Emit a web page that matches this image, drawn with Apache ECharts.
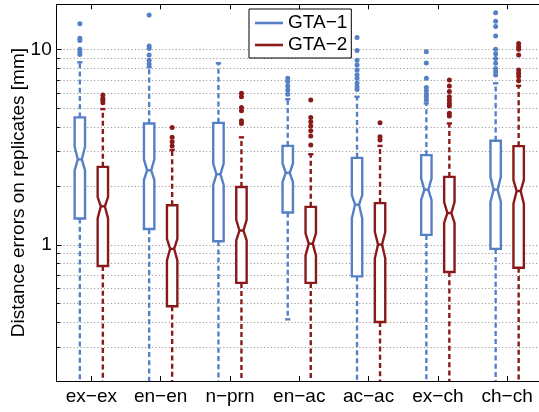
<!DOCTYPE html>
<html><head><meta charset="utf-8">
<script src="https://cdn.jsdelivr.net/npm/echarts@6/dist/echarts.min.js"></script>
<style>html,body{margin:0;padding:0;background:#fff}#c{width:539px;height:412px}</style>
</head><body><div id="c"></div>
<script>
const categories = ['ex−ex','en−en','n−prn','en−ac','ac−ac','ex−ch','ch−ch'];
const seriesNames = ['GTA−1','GTA−2'];
const yAxisName = 'Distance errors on replicates [mm]';
const gridValues = [0.3,0.4,0.5,0.6,0.7,0.8,0.9,1,2,3,4,5,6,7,8,9,10];
const majorTicks = [1, 10];

// GTA-1 (blue)
const gta1LowerWhisker = [0.15, 0.15, 0.15, 0.414, 0.15, 0.15, 0.15];
const gta1Q1           = [1.36, 1.20, 1.04, 1.46, 0.687, 1.12, 0.95];
const gta1Median       = [2.73, 2.40, 2.29, 2.33, 1.60, 1.91, 1.91];
const gta1Q3           = [4.48, 4.17, 4.20, 3.20, 2.78, 2.87, 3.40];
const gta1UpperWhisker = [8.58, 8.10, 8.48, 5.55, 5.71, 5.28, 6.70];
const gta1NotchLow     = [2.40, 2.14, 2.02, 2.09, 1.36, 1.69, 1.65];
const gta1NotchHigh    = [3.17, 2.73, 2.60, 2.60, 1.79, 2.18, 2.22];
const gta1Outliers = [
  [13.5, 11.4, 11.1, 10.0, 9.7, 9.4],
  [15.0, 10.4, 10.1, 9.35, 8.8, 8.4],
  [],
  [7.11, 6.83, 6.49, 6.19, 5.88],
  [11.5, 9.85, 8.8, 8.32, 7.84, 7.4, 7.1, 6.72, 6.43, 6.23],
  [9.71, 8.5, 7.11, 6.38, 6.13, 5.89, 5.71, 5.5],
  [15.4, 13.9, 13.1, 11.7, 10.0, 9.5, 8.98, 8.47, 7.98, 7.67, 7.39]
];

// GTA-2 (red)
const gta2LowerWhisker = [0.15, 0.15, 0.15, 0.15, 0.15, 0.15, 0.15];
const gta2Q1           = [0.776, 0.483, 0.636, 0.636, 0.401, 0.723, 0.76];
const gta2Median       = [1.57, 0.95, 1.18, 1.01, 1.00, 1.45, 1.88];
const gta2Q3           = [2.50, 1.59, 1.97, 1.56, 1.63, 2.22, 3.19];
const gta2UpperWhisker = [4.94, 3.05, 3.54, 2.90, 3.20, 4.17, 6.50];
const gta2NotchLow     = [1.36, 0.83, 1.05, 0.88, 0.85, 1.29, 1.62];
const gta2NotchHigh    = [1.75, 1.07, 1.34, 1.14, 1.16, 1.65, 2.14];
const gta2Outliers = [
  [5.83, 5.6, 5.5, 5.33],
  [3.98, 3.54, 3.36, 3.2],
  [5.95, 5.71, 5.04, 4.85, 4.31, 4.17],
  [5.5, 4.48, 4.26, 4.05, 3.83, 3.6, 3.23],
  [4.2, 3.56, 3.43],
  [6.97, 6.49, 6.07, 5.71, 5.5, 5.28, 5.12, 4.7, 4.55],
  [10.7, 10.3, 10.0, 9.35, 7.84, 7.53, 7.25, 6.9]
];

const BLUE = '#5680c6';
const RED = '#8a1a1a';
const FONT = 'Liberation Sans, Arial, Helvetica, sans-serif';
const LW = 2.4;

function boxData(lw, q1, med, q3, uw, nl, nh) {
  return categories.map((c, i) => [i, lw[i], q1[i], med[i], q3[i], uw[i], nl[i], nh[i]]);
}
function outlierData(list) {
  const out = [];
  list.forEach((vals, i) => vals.forEach(v => out.push([i, v])));
  return out;
}

function boxRender(side) {
  return function (params, api) {
    const cs = params.coordSys;
    const band = cs.width / categories.length;
    const i = api.value(0);
    const cx = api.coord([i, 1])[0] + side * band * 0.166;
    const bot = cs.y + cs.height, top = cs.y;
    const raw = k => api.coord([i, api.value(k)])[1];
    const cl = y => Math.max(top, Math.min(bot, y));
    const yLW = raw(1), yQ1 = raw(2), yMed = raw(3), yQ3 = raw(4), yUW = raw(5), yNL = raw(6), yNH = raw(7);
    const hw = 5.2, nw = 2.0, capW = 2.6;
    const color = api.visual('color');
    const dash = [5, 3.2];
    const children = [
      {type: 'line', shape: {x1: cx, y1: yQ3, x2: cx, y2: cl(yUW)}, style: {stroke: color, lineWidth: LW, lineDash: dash}},
      {type: 'line', shape: {x1: cx, y1: yQ1, x2: cx, y2: cl(yLW)}, style: {stroke: color, lineWidth: LW, lineDash: dash}},
      {type: 'polygon', shape: {points: [
        [cx - hw, yQ3], [cx - hw, yNH], [cx - nw, yMed], [cx - hw, yNL], [cx - hw, yQ1],
        [cx + hw, yQ1], [cx + hw, yNL], [cx + nw, yMed], [cx + hw, yNH], [cx + hw, yQ3]
      ]}, style: {fill: '#fff', stroke: color, lineWidth: LW}},
      {type: 'line', shape: {x1: cx - nw, y1: yMed, x2: cx + nw, y2: yMed}, style: {stroke: color, lineWidth: LW}}
    ];
    if (yUW >= top) children.push({type: 'line', shape: {x1: cx - capW, y1: yUW, x2: cx + capW, y2: yUW}, style: {stroke: color, lineWidth: LW}});
    if (yLW <= bot) children.push({type: 'line', shape: {x1: cx - capW, y1: yLW, x2: cx + capW, y2: yLW}, style: {stroke: color, lineWidth: LW}});
    return {type: 'group', children};
  };
}
function outlierRender(side) {
  return function (params, api) {
    const cs = params.coordSys;
    const band = cs.width / categories.length;
    const i = api.value(0);
    const p = api.coord([i, api.value(1)]);
    return {type: 'circle', shape: {cx: p[0] + side * band * 0.166, cy: p[1], r: 2.5}, style: {fill: api.visual('color')}};
  };
}
function gridRender(params, api) {
  const cs = params.coordSys;
  const v = api.value(0);
  const y = Math.round(api.coord([0, v])[1]) + 0.5;
  const isMajor = majorTicks.indexOf(v) >= 0;
  return {type: 'group', children: [
    {type: 'line', shape: {x1: cs.x, y1: y, x2: cs.x + cs.width, y2: y}, style: {stroke: '#8a8a8a', lineWidth: 1, lineDash: [1, 2.4]}},
    {type: 'line', shape: {x1: cs.x, y1: y, x2: cs.x + (isMajor ? 5 : 3), y2: y}, style: {stroke: '#000', lineWidth: 1}}
  ]};
}

const chart = echarts.init(document.getElementById('c'), null, {renderer: 'canvas'});
chart.setOption({
  animation: false,
  backgroundColor: '#fff',
  textStyle: {fontFamily: FONT},
  grid: {left: 56.7, top: 4.3, width: 485.1, height: 376.7, containLabel: false, outerBoundsMode: 'none'},
  legend: {
    data: seriesNames, orient: 'vertical', left: 249, top: 9,
    padding: [4, 4, 3, 6], itemGap: 2, itemWidth: 28, itemHeight: 2.6, icon: 'rect',
    backgroundColor: '#fff', borderColor: '#000', borderWidth: 1, borderRadius: 0,
    textStyle: {fontSize: 19, color: '#000', fontFamily: FONT, lineHeight: 20},
    selectedMode: false, z: 20
  },
  xAxis: [{
    type: 'category', data: categories, boundaryGap: true, position: 'bottom',
    axisLine: {show: true, lineStyle: {color: '#000', width: 1}},
    axisTick: {show: true, alignWithLabel: true, inside: true, length: 5, lineStyle: {color: '#000'}, interval: 0},
    axisLabel: {fontSize: 19, color: '#000', margin: 6, fontFamily: FONT, interval: 0, hideOverlap: false},
    splitLine: {show: false}
  }, {
    type: 'category', data: categories, boundaryGap: true, position: 'top',
    axisLine: {show: true, lineStyle: {color: '#000', width: 1}},
    axisTick: {show: true, alignWithLabel: true, inside: true, length: 5, lineStyle: {color: '#000'}, interval: 0},
    axisLabel: {show: false}, splitLine: {show: false}
  }],
  yAxis: {
    type: 'log', logBase: 10, min: 0.2, max: 17,
    name: yAxisName, nameLocation: 'middle', nameRotate: 90, nameGap: 28, nameMoveOverlap: false,
    nameTextStyle: {fontSize: 19, color: '#000', fontFamily: FONT},
    axisLine: {show: true, lineStyle: {color: '#000', width: 1}},
    axisTick: {show: false},
    splitLine: {show: false}, minorTick: {show: false}, minorSplitLine: {show: false},
    axisLabel: {
      fontSize: 19, color: '#000', margin: 5, fontFamily: FONT, showMinLabel: true, showMaxLabel: true,
      formatter: function (v) {
        for (const m of majorTicks) if (Math.abs(v - m) < 1e-6 * m) return String(m);
        return '';
      }
    }
  },
  series: [
    {type: 'custom', name: 'grid', data: gridValues.map(v => [v]), renderItem: gridRender, encode: {y: 0}, silent: true, z: 1},
    {type: 'custom', name: seriesNames[0], itemStyle: {color: BLUE}, data: boxData(gta1LowerWhisker, gta1Q1, gta1Median, gta1Q3, gta1UpperWhisker, gta1NotchLow, gta1NotchHigh), renderItem: boxRender(-1), encode: {x: 0, y: [1,2,3,4,5,6,7]}, z: 3},
    {type: 'custom', name: seriesNames[1], itemStyle: {color: RED}, data: boxData(gta2LowerWhisker, gta2Q1, gta2Median, gta2Q3, gta2UpperWhisker, gta2NotchLow, gta2NotchHigh), renderItem: boxRender(1), encode: {x: 0, y: [1,2,3,4,5,6,7]}, z: 3},
    {type: 'custom', name: seriesNames[0], itemStyle: {color: BLUE}, data: outlierData(gta1Outliers), renderItem: outlierRender(-1), encode: {x: 0, y: 1}, z: 4},
    {type: 'custom', name: seriesNames[1], itemStyle: {color: RED}, data: outlierData(gta2Outliers), renderItem: outlierRender(1), encode: {x: 0, y: 1}, z: 4}
  ]
});
</script></body></html>
